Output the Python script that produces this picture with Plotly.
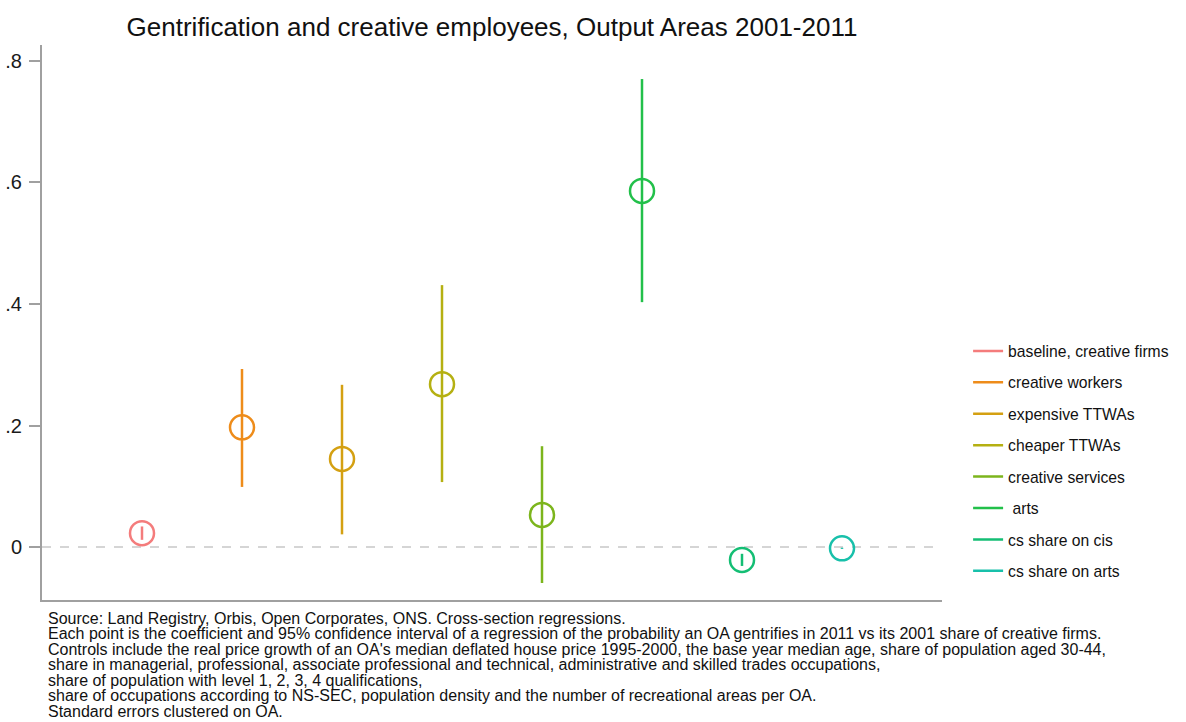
import plotly.graph_objects as go

# Regression specifications (one coefficient each)
labels = [
    "baseline, creative firms",
    "creative workers",
    "expensive TTWAs",
    "cheaper TTWAs",
    "creative services",
    " arts",
    "cs share on cis",
    "cs share on arts",
]
positions = [1, 2, 3, 4, 5, 6, 7, 8]
coef = [0.023, 0.197, 0.145, 0.268, 0.053, 0.586, -0.021, -0.002]
ci_low = [0.012, 0.099, 0.021, 0.107, -0.059, 0.403, -0.031, -0.003]
ci_high = [0.034, 0.293, 0.267, 0.431, 0.166, 0.770, -0.011, -0.001]
colors = ["#F47C7C", "#EE8C1A", "#D4A012", "#B5B012", "#7CB51C",
          "#22C04A", "#14BE74", "#18C0AA"]

y_ticks = [0, 0.2, 0.4, 0.6, 0.8]
y_tick_text = ["0", ".2", ".4", ".6", ".8"]

title_text = "Gentrification and creative employees, Output Areas 2001-2011"
notes = [
    "Source: Land Registry, Orbis, Open Corporates, ONS. Cross-section regressions.",
    "Each point is the coefficient and 95% confidence interval of a regression of the probability an OA gentrifies in 2011 vs its 2001 share of creative firms.",
    "Controls include the real price growth of an OA's median deflated house price 1995-2000, the base year median age, share of population aged 30-44,",
    "share in managerial, professional, associate professional and technical, administrative and skilled trades occupations,",
    "share of population with level 1, 2, 3, 4 qualifications,",
    "share of occupations according to NS-SEC, population density and the number of recreational areas per OA.",
    "Standard errors clustered on OA.",
]

FONT = "Arial, Liberation Sans, sans-serif"

fig = go.Figure()

# Zero reference line
fig.add_trace(go.Scatter(
    x=[0, 9], y=[0, 0], mode="lines",
    line=dict(color="#C8C8C8", width=1.5, dash="dash"),
    showlegend=False, hoverinfo="skip",
))

for i, name in enumerate(labels):
    # Confidence interval as a vertical segment (this carries the legend entry)
    fig.add_trace(go.Scatter(
        x=[positions[i], positions[i]], y=[ci_low[i], ci_high[i]],
        mode="lines", name=name, legendgroup=name,
        line=dict(color=colors[i], width=2.5),
    ))
    # Point estimate as an open circle
    fig.add_trace(go.Scatter(
        x=[positions[i]], y=[coef[i]], mode="markers",
        legendgroup=name, showlegend=False,
        marker=dict(symbol="circle-open", size=24, color=colors[i],
                    line=dict(width=2.5, color=colors[i])),
    ))

annotations = []
for k, line in enumerate(notes):
    annotations.append(dict(
        text=line, xref="paper", yref="paper", x=0.004, y=0,
        xanchor="left", yanchor="middle", yshift=-(18 + 15.5 * k),
        showarrow=False, align="left",
        font=dict(family=FONT, size=16, color="#111111"),
    ))

fig.update_layout(
    width=1186, height=722,
    margin=dict(l=42, r=244, t=45, b=122),
    paper_bgcolor="white", plot_bgcolor="white",
    font=dict(family=FONT, color="#1a1a1a"),
    title=dict(text=title_text, x=0.5, xref="paper", xanchor="center",
               y=1 - 27 / 722, yref="container", yanchor="middle",
               font=dict(size=26, color="#111111")),
    xaxis=dict(range=[0, 9], showgrid=False, zeroline=False,
               showticklabels=False, ticks="", automargin=False,
               showline=True, linecolor="#A0A0A0", linewidth=2),
    yaxis=dict(range=[-0.087, 0.826], showgrid=False, zeroline=False,
               tickvals=y_ticks, ticktext=y_tick_text, automargin=False,
               ticks="outside", ticklen=11, tickwidth=1.5, tickcolor="#A0A0A0",
               ticklabelstandoff=3,
               tickfont=dict(size=20, color="#1a1a1a"),
               showline=True, linecolor="#A0A0A0", linewidth=2),
    legend=dict(x=1.029, xanchor="left", y=0.25, yanchor="middle",
                tracegroupgap=8, font=dict(size=15.7, color="#111111"),
                bgcolor="rgba(0,0,0,0)"),
    annotations=annotations,
)

fig.write_html("out.html")
